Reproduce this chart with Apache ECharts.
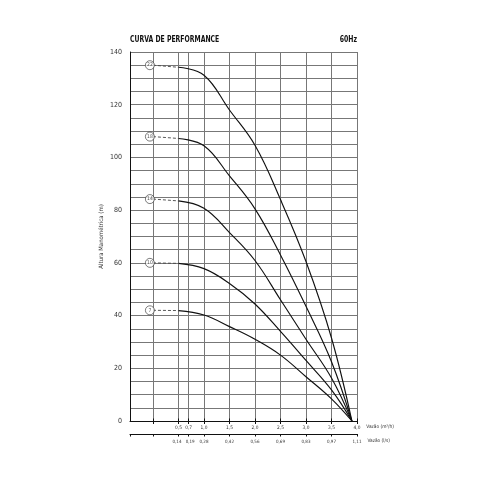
<!DOCTYPE html>
<html>
<head>
<meta charset="utf-8">
<script src="https://cdn.jsdelivr.net/npm/echarts@6/dist/echarts.min.js"></script>
<style>
  html,body{margin:0;padding:0;background:#fff;}
  #main{width:500px;height:500px;}
</style>
</head>
<body>
<div id="main"></div>
<script>
// vazao (m3/h) onde as curvas foram lidas
var flow = [0.5, 1.0, 1.5, 2.0, 2.5, 3.0, 3.5, 3.9];
// altura manometrica (m) por numero de estagios
var h22 = [134.2, 131.2, 118.0, 104.6, 84.0, 60.5, 31.5, 0];
var h18 = [107.2, 104.4, 93.0, 80.5, 63.0, 43.5, 22.5, 0];
var h14 = [83.5, 80.7, 71.5, 60.9, 46.0, 31.0, 16.3, 0];
var h10 = [59.8, 57.8, 52.2, 44.4, 34.0, 23.0, 11.8, 0];
var h7 = [41.9, 40.2, 35.8, 31.0, 25.0, 16.8, 8.4, 0];
// altura a vazao zero (trecho tracejado)
var shutoff = [135.0, 107.9, 84.2, 60.0, 42.0];
var stages = ['22', '18', '14', '10', '7'];

// eixos
var gridTicks = [0, 0.5, 0.7, 1.0, 1.5, 2.0, 2.5, 3.0, 3.5, 4.0];
var labelTicks = [0.5, 0.7, 1.0, 1.5, 2.0, 2.5, 3.0, 3.5, 4.0];
var m3hLabels = ['0,5', '0,7', '1,0', '1,5', '2,0', '2,5', '3,0', '3,5', '4,0'];
var lsLabels = ['0,14', '0,19', '0,28', '0,42', '0,56', '0,69', '0,83', '0,97', '1,11'];
var yLabels = [0, 20, 40, 60, 80, 100, 120, 140];

var heads = [h22, h18, h14, h10, h7];
var font = "'DejaVu Sans Condensed',sans-serif";
var xMin = -0.45;

var myChart = echarts.init(document.getElementById('main'));

var series = [];
heads.forEach(function (h, i) {
  series.push({
    type: 'line',
    smooth: 0.4,
    symbol: 'none',
    silent: true,
    lineStyle: { color: '#111', width: 1.15 },
    data: flow.map(function (q, k) { return [q, h[k]]; })
  });
  series.push({
    type: 'line',
    symbol: 'none',
    silent: true,
    lineStyle: { color: '#444', width: 0.9, type: [3, 2] },
    data: [[0, shutoff[i]], [flow[0], h[0]]]
  });
});
series.push({
  type: 'scatter',
  symbol: 'circle',
  symbolSize: 9,
  z: 5,
  silent: true,
  itemStyle: { color: '#fff', borderColor: '#333', borderWidth: 0.8 },
  label: {
    show: true,
    position: 'inside',
    fontSize: 5,
    fontFamily: font,
    color: '#222',
    formatter: function (p) { return stages[p.dataIndex]; }
  },
  data: shutoff.map(function (v) { return [-0.06, v]; })
});

myChart.setOption({
  animation: false,
  graphic: [
    {
      type: 'text', x: 130, y: 35, scaleX: 0.72,
      style: { text: 'CURVA DE PERFORMANCE', font: "bold 9.5px 'DejaVu Sans Condensed',sans-serif", fill: '#111' }
    },
    {
      type: 'text', x: 357, y: 35, scaleX: 0.72,
      style: { text: '60Hz', align: 'right', font: "bold 9.5px 'DejaVu Sans Condensed',sans-serif", fill: '#111' }
    }
  ],
  grid: { left: 130, right: 143, top: 52, bottom: 79 },
  xAxis: [
    {
      type: 'value',
      min: xMin, max: 4.0,
      position: 'bottom',
      name: 'Vazão (m³/h)',
      nameLocation: 'end',
      nameGap: 5,
      nameTextStyle: { fontSize: 4.8, fontFamily: font, color: '#333', verticalAlign: 'top', padding: [3, 0, 0, 0] },
      axisLine: { onZero: false, lineStyle: { color: '#111', width: 1 } },
      axisTick: { show: true, length: 3, customValues: gridTicks, lineStyle: { color: '#111' } },
      axisLabel: {
        customValues: labelTicks,
        hideOverlap: false,
        fontSize: 4.8, fontFamily: font, color: '#333', margin: 4,
        formatter: function (v) {
          var i = labelTicks.indexOf(v);
          return i < 0 ? '' : m3hLabels[i];
        }
      },
      splitLine: { show: true, lineStyle: { color: '#777', width: 1 } }
    },
    {
      type: 'value',
      min: xMin, max: 4.0,
      position: 'bottom',
      offset: 13,
      name: 'Vazão (l/s)',
      nameLocation: 'end',
      nameGap: 5,
      nameTextStyle: { fontSize: 4.8, fontFamily: font, color: '#333', verticalAlign: 'top', padding: [4, 0, 0, 0] },
      axisLine: { onZero: false, lineStyle: { color: '#111', width: 1 } },
      axisTick: { show: true, length: 2.5, customValues: [xMin].concat(gridTicks), lineStyle: { color: '#111' } },
      axisLabel: {
        customValues: labelTicks,
        hideOverlap: false,
        showMinLabel: true,
        fontSize: 4.5, fontFamily: font, color: '#333', margin: 5,
        formatter: function (v) {
          var i = labelTicks.indexOf(v);
          if (i < 0) return '';
          if (i === 0) return '{l|' + lsLabels[i] + '}';
          if (i === 1) return '{r|' + lsLabels[i] + '}';
          return lsLabels[i];
        },
        rich: {
          l: { fontSize: 4.5, fontFamily: font, color: '#333', padding: [0, 3, 0, 0] },
          r: { fontSize: 4.5, fontFamily: font, color: '#333', padding: [0, 0, 0, 3] }
        }
      },
      splitLine: { show: false }
    },
    {
      type: 'value',
      min: xMin, max: 4.0,
      position: 'bottom',
      offset: 13,
      axisLine: { show: false },
      axisTick: { show: true, inside: true, length: 2.5, customValues: [xMin].concat(gridTicks), lineStyle: { color: '#111' } },
      axisLabel: { show: false },
      splitLine: { show: false }
    }
  ],
  yAxis: {
    type: 'value',
    min: 0, max: 140, interval: 5,
    name: 'Altura Manométrica (m)',
    nameLocation: 'middle',
    nameGap: 26,
    nameTextStyle: { fontSize: 6, fontFamily: font, color: '#333' },
    axisLine: { show: true, onZero: false, lineStyle: { color: '#111', width: 1 } },
    axisTick: { show: false },
    axisLabel: {
      customValues: yLabels,
      fontSize: 7, fontFamily: font, color: '#333', margin: 8
    },
    splitLine: { show: true, lineStyle: { color: '#777', width: 1 } }
  },
  series: series
});
</script>
</body>
</html>
